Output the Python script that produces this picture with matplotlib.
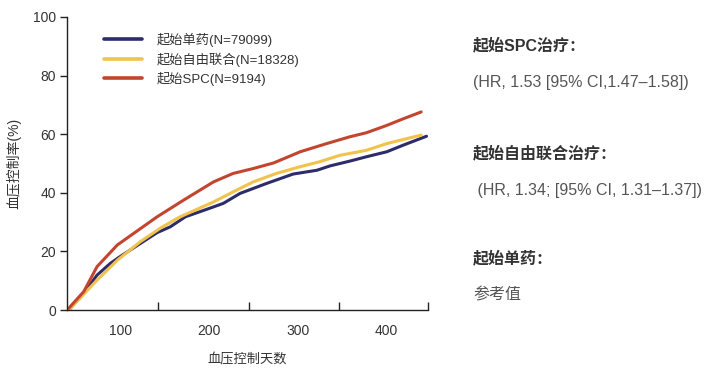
import matplotlib.pyplot as plt
import numpy as np

LATIN_CJK = ['Liberation Sans', 'Noto Sans CJK SC']
plt.rcParams['font.family'] = LATIN_CJK

# series (days, control rate %)
mono_x = [41, 58, 73, 88, 99, 122, 141, 156, 173, 205, 216, 235, 265, 295,
          322, 337, 359, 378, 401, 420, 446]
mono_y = [0, 5.7, 11.9, 15.9, 18.2, 22.7, 26.4, 28.4, 31.8, 35.2, 36.4,
          39.8, 43.2, 46.4, 47.7, 49.2, 50.8, 52.3, 54.0, 56.3, 59.3]

free_x = [41, 73, 96, 122, 145, 167, 205, 227, 250, 276, 303, 325, 348,
          378, 401, 440]
free_y = [0, 10.2, 17.0, 23.3, 28.0, 31.8, 36.9, 40.3, 43.75, 46.6, 48.9,
          50.6, 52.8, 54.5, 56.8, 59.7]

spc_x = [41, 58, 73, 96, 141, 171, 205, 227, 250, 273, 303, 333, 359, 378,
         401, 420, 440]
spc_y = [0.6, 6.3, 14.8, 22.2, 31.8, 37.5, 43.75, 46.6, 48.3, 50.2, 54.0,
         56.8, 59.1, 60.5, 63.0, 65.3, 67.6]

series = [
    ('起始单药(N=79099)', mono_x, mono_y, '#2d2c6b'),
    ('起始自由联合(N=18328)', free_x, free_y, '#f1c24c'),
    ('起始SPC(N=9194)', spc_x, spc_y, '#c2452f'),
]

label_ticks = [100, 200, 300, 400]
mark_ticks = [142, 245, 347, 447.7]
y_ticks = [0, 20, 40, 60, 80, 100]

notes = [
    ('起始SPC治疗：', True, 45),
    ('(HR, 1.53 [95% CI,1.47–1.58])', False, 83),
    ('起始自由联合治疗：', True, 153),
    (' (HR, 1.34; [95% CI, 1.31–1.37])', False, 190),
    ('起始单药：', True, 258),
    ('参考值', False, 295),
]

W, H = 712, 372
fig = plt.figure(figsize=(W / 100, H / 100), dpi=100)
ax = fig.add_axes([67 / W, 1 - 310 / H, (428 - 67) / W, (310 - 17) / H])

for name, xs, ys, col in series:
    ax.plot(xs, ys, color=col, lw=2.2, label=name, solid_capstyle='round')

ax.set_xlim(39, 447.7)
ax.set_ylim(0, 100)
for s in ('top', 'right'):
    ax.spines[s].set_visible(False)
for s in ('left', 'bottom'):
    ax.spines[s].set_color('#222222')
    ax.spines[s].set_linewidth(1.0)

ax.set_xticks(label_ticks)
ax.set_xticks(mark_ticks, minor=True)
ax.tick_params(axis='x', which='major', length=0, pad=10,
               labelsize=10, labelcolor='#333333')
ax.tick_params(axis='x', which='minor', direction='in', length=6,
               width=1.0, color='#222222')
ax.set_yticks(y_ticks)
ax.tick_params(axis='y', direction='out', length=5, width=1.0,
               color='#222222', labelsize=10, labelcolor='#333333', pad=3)

ax.set_xlabel('血压控制天数', fontsize=9.5, color='#333333', labelpad=11)
ax.set_ylabel('血压控制率(%)', fontsize=10, color='#333333', labelpad=8)

leg = ax.legend(loc='upper left', bbox_to_anchor=(104 / W, 1 - 33 / H),
                bbox_transform=fig.transFigure, frameon=False, fontsize=9.5,
                handlelength=2.9, handletextpad=1.1, labelspacing=0.4,
                borderpad=0, borderaxespad=0)
for t in leg.get_texts():
    t.set_color('#333333')
for line in leg.get_lines():
    line.set_linewidth(2.6)

for text, bold, yc in notes:
    fig.text(473 / W, 1 - yc / H, text, fontsize=11.5, va='center',
             ha='left', fontweight='bold' if bold else 'normal',
             color='#333333' if bold else '#555555', family=LATIN_CJK)

fig.savefig('out.png', dpi=100)
